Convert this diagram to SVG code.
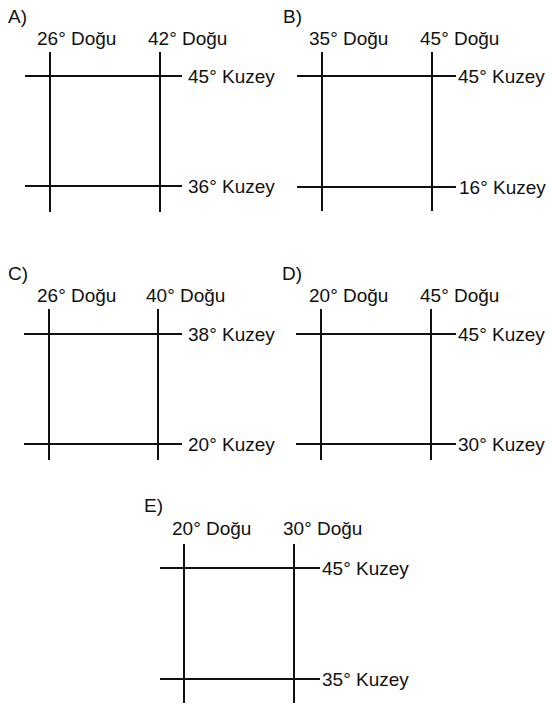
<svg xmlns="http://www.w3.org/2000/svg" width="552" height="707" viewBox="0 0 552 707">
<style>
text{font-family:"Liberation Sans",Arial,sans-serif;font-size:19px;fill:#111}
line{stroke:#111;stroke-width:2}
</style>
<rect width="552" height="707" fill="#fff"/>
<g id="panelA">
<text x="8" y="23">A)</text>
<text x="37" y="45">26° Doğu</text>
<text x="148" y="45">42° Doğu</text>
<text x="188" y="83">45° Kuzey</text>
<text x="188" y="193">36° Kuzey</text>
</g>
<g id="panelB">
<text x="283" y="23">B)</text>
<text x="309" y="45">35° Doğu</text>
<text x="420" y="45">45° Doğu</text>
<text x="458" y="83">45° Kuzey</text>
<text x="459" y="194">16° Kuzey</text>
</g>
<g id="panelC">
<text x="8" y="280">C)</text>
<text x="37" y="302">26° Doğu</text>
<text x="146" y="302">40° Doğu</text>
<text x="188" y="341">38° Kuzey</text>
<text x="188" y="451">20° Kuzey</text>
</g>
<g id="panelD">
<text x="282" y="280">D)</text>
<text x="309" y="302">20° Doğu</text>
<text x="420" y="302">45° Doğu</text>
<text x="458" y="341">45° Kuzey</text>
<text x="458" y="451">30° Kuzey</text>
</g>
<g id="panelE">
<text x="144" y="512">E)</text>
<text x="172" y="535">20° Doğu</text>
<text x="283" y="535">30° Doğu</text>
<text x="322" y="575">45° Kuzey</text>
<text x="322" y="686">35° Kuzey</text>
</g>
<g id="connectors">
<line x1="50" y1="52" x2="50" y2="212"/>
<line x1="160" y1="52" x2="160" y2="212"/>
<line x1="25" y1="76" x2="182" y2="76"/>
<line x1="25" y1="186" x2="182" y2="186"/>
<line x1="322" y1="52" x2="322" y2="211"/>
<line x1="432" y1="52" x2="432" y2="211"/>
<line x1="297" y1="76" x2="456" y2="76"/>
<line x1="297" y1="187" x2="456" y2="187"/>
<line x1="49" y1="309" x2="49" y2="460"/>
<line x1="158" y1="309" x2="158" y2="460"/>
<line x1="24" y1="334" x2="182" y2="334"/>
<line x1="24" y1="444" x2="182" y2="444"/>
<line x1="321" y1="309" x2="321" y2="460"/>
<line x1="431" y1="309" x2="431" y2="460"/>
<line x1="296" y1="334" x2="456" y2="334"/>
<line x1="296" y1="444" x2="456" y2="444"/>
<line x1="184" y1="544" x2="184" y2="703"/>
<line x1="294" y1="544" x2="294" y2="703"/>
<line x1="160" y1="568" x2="320" y2="568"/>
<line x1="160" y1="679" x2="320" y2="679"/>
</g>
</svg>
